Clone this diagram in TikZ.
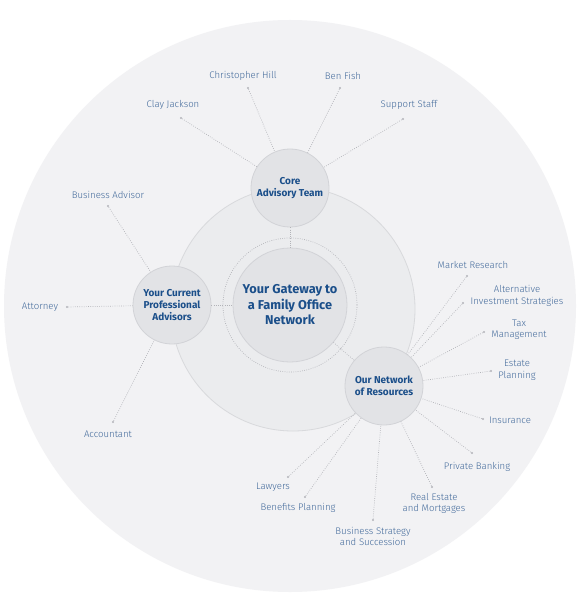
\documentclass[tikz,border=0pt]{standalone}
\usepackage{fontspec}
\setmainfont{Fira Sans}
\newfontfamily\lightfont{Fira Sans Light}
\definecolor{labelblue}{HTML}{41699A}
\definecolor{titleblue}{HTML}{1B4F8A}
\definecolor{hubfill}{HTML}{E2E3E6}
\definecolor{hubline}{HTML}{D2D3D7}
\definecolor{midfill}{HTML}{EBECEE}
\definecolor{midline}{HTML}{D8D9DC}
\definecolor{outerfill}{HTML}{F2F2F4}
\definecolor{spokegray}{HTML}{B2B3B8}
\begin{document}
\begin{tikzpicture}[x=1pt,y=-1pt,
  lbl/.style={text=labelblue, font=\lightfont\fontsize{9.6}{11.5}\selectfont, align=center, inner sep=0},
  hub/.style={circle, draw=hubline, line width=0.8pt, fill=hubfill, minimum size=78pt, inner sep=0, align=center, text=titleblue, font=\bfseries\fontsize{10}{12}\selectfont},
  spoke/.style={draw=spokegray, line width=0.7pt, dash pattern=on 0.7pt off 1.5pt},
  tipdot/.style={circle, fill=spokegray, inner sep=0, minimum size=2.4pt}
]
\useasboundingbox (0,0) rectangle (582,612);
\fill[white] (0,0) rectangle (582,612);
% background circles
\fill[outerfill] (290,306) circle (286);
\filldraw[fill=midfill, draw=midline, line width=0.8pt] (293,309) circle (122);
\draw[spoke] (290,305) circle (67);

% hubs
\node[hub, minimum size=114pt, font=\bfseries\fontsize{12.8}{15.5}\selectfont] (center) at (290,305) {Your Gateway to\\a Family Office\\Network};
\node[hub] (core) at (290,188) {Core\\Advisory Team};
\node[hub] (adv) at (172,305) {Your Current\\Professional\\Advisors};
\node[hub] (net) at (384,386) {Our Network\\of Resources};

\draw[spoke] (core) -- (center);
\draw[spoke] (adv) -- (center);
\draw[spoke] (center) -- (net);

% core team
\node[lbl] (l1) at (173,105) {Clay Jackson};
\node[tipdot] (d1) at (181,118) {};
\node[lbl] (l2) at (243,76) {Christopher Hill};
\node[tipdot] (d2) at (248,88) {};
\node[lbl] (l3) at (343,76) {Ben Fish};
\node[tipdot] (d3) at (340,88) {};
\node[lbl] (l4) at (409,105) {Support Staff};
\node[tipdot] (d4) at (403,119) {};
\foreach \d in {d1,d2,d3,d4} \draw[spoke] (\d) -- (core);

% advisors
\node[lbl] (l5) at (108,195) {Business Advisor};
\node[tipdot] (d5) at (108,206) {};
\node[lbl] (l6) at (40,307) {Attorney};
\node[tipdot] (d6) at (67,307) {};
\node[lbl] (l7) at (108,434) {Accountant};
\node[tipdot] (d7) at (113,422) {};
\foreach \d in {d5,d6,d7} \draw[spoke] (\d) -- (adv);

% network
\node[lbl] (l8) at (473,265) {Market Research};
\node[tipdot] (d8) at (467,276) {};
\node[lbl] (l9) at (517,296) {Alternative\\Investment Strategies};
\node[tipdot] (d9) at (463,303) {};
\node[lbl] (l10) at (519,329.5) {Tax\\Management};
\node[tipdot] (d10) at (484,332) {};
\node[lbl] (l11) at (517,370) {Estate\\Planning};
\node[tipdot] (d11) at (491,371) {};
\node[lbl] (l12) at (510,420) {Insurance};
\node[tipdot] (d12) at (483,419) {};
\node[lbl] (l13) at (477,467) {Private Banking};
\node[tipdot] (d13) at (472,453) {};
\node[lbl] (l14) at (434,503.5) {Real Estate\\and Mortgages};
\node[tipdot] (d14) at (432,487) {};
\node[lbl] (l15) at (373,536.5) {Business Strategy\\and Succession};
\node[tipdot] (d15) at (373,520) {};
\node[lbl] (l16) at (298,508) {Benefits Planning};
\node[tipdot] (d16) at (305,497) {};
\node[lbl] (l17) at (273,487) {Lawyers};
\node[tipdot] (d17) at (288,477) {};
\foreach \d in {d8,d9,d10,d11,d12,d13,d14,d15,d16,d17} \draw[spoke] (\d) -- (net);
\end{tikzpicture}
\end{document}
